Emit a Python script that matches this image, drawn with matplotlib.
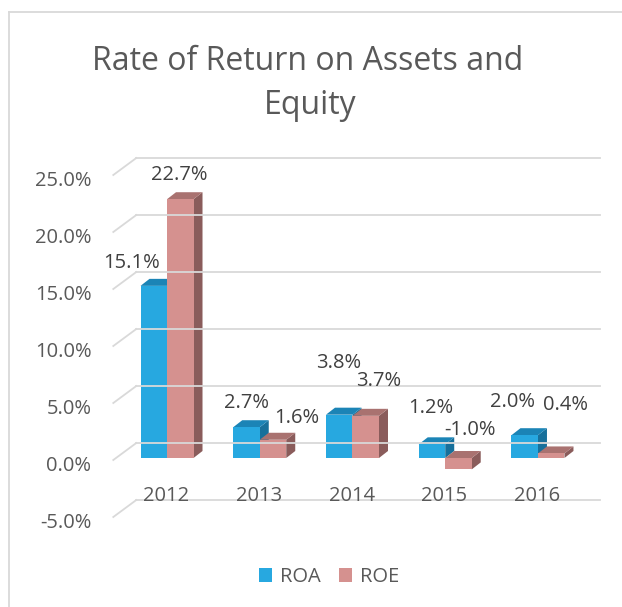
import matplotlib
matplotlib.use("Agg")
import matplotlib.pyplot as plt
from matplotlib.patches import Polygon, Rectangle, Patch
from matplotlib.lines import Line2D

years = ["2012", "2013", "2014", "2015", "2016"]
roa = [15.1, 2.7, 3.8, 1.2, 2.0]
roe = [22.7, 1.6, 3.7, -1.0, 0.4]
series_names = ["ROA", "ROE"]
y_ticks = [-5, 0, 5, 10, 15, 20, 25]

# Excel nudged some labels around, (dx, dy up) in pixels from the bar top
roa_nudge = [(-22, 23), (0, 24), (-1, 52), (-1, 36), (-12, 33)]
roe_nudge = [(-1, 24), (24, 22), (13, 35), (12, 28), (14, 48)]

blue = ("#27A8E0", "#1B84B6", "#17709B")   # front, top, side
pink = ("#D5918F", "#A97270", "#8A5C5B")
grid_col = "#D9D9D9"
fs = 14.5

plt.rcParams["font.family"] = ["Open Sans", "DejaVu Sans"]

W, H = 622, 607
fig = plt.figure(figsize=(W / 100, H / 100), dpi=100)
left, right, top_px, bot_px = 113.3, 577.0, 175.0, 517.0
ax = fig.add_axes([left / W, 1 - bot_px / H, (right - left) / W, (bot_px - top_px) / H])
xlo, xhi = -0.55, 4.45
ax.set_xlim(xlo, xhi)
ax.set_ylim(-5, 25)
ax.axis("off")

sx = (right - left) / (xhi - xlo)   # px per category
sy = (bot_px - top_px) / 30.0       # px per percent


def px(dx, dy):
    return dx / sx, dy / sy


# back wall + side grid
wx, wy = px(23, 17)
for lvl in y_ticks:
    ax.plot([xlo, xlo + wx], [lvl, lvl + wy], color=grid_col, lw=1.3, clip_on=False)
    ax.plot([xlo + wx, xhi + wx], [lvl + wy, lvl + wy], color=grid_col, lw=1.3, clip_on=False)
    ax.text(xlo - px(22, 0)[0], lvl - px(0, 6)[1], f"{lvl:.1f}%", ha="right", va="center",
            fontsize=fs, color="#595959")

bw = 26.5 / sx
bx, by = px(2.7, 2)
ddx, ddy = px(9, 7)


def draw_bar(x0, v, cols, nudge):
    front, topc, side = cols
    x0 = x0 + bx
    x1 = x0 + bw
    lo, hi = min(v, 0) + by, max(v, 0) + by
    ax.add_patch(Polygon([(x1, lo), (x1 + ddx, lo + ddy), (x1 + ddx, hi + ddy), (x1, hi)],
                         facecolor=side, lw=0, clip_on=False))
    ax.add_patch(Polygon([(x0, hi), (x1, hi), (x1 + ddx, hi + ddy), (x0 + ddx, hi + ddy)],
                         facecolor=topc, lw=0, clip_on=False))
    ax.add_patch(Rectangle((x0, lo), bw, hi - lo, facecolor=front, lw=0, clip_on=False))
    ax.annotate(f"{v:.1f}%", xy=(x0 + bw / 2, hi), xytext=(nudge[0] * 0.72, nudge[1] * 0.72),
                textcoords="offset points", ha="center", va="center",
                fontsize=fs, color="#404040")


for i in range(len(years)):
    draw_bar(i - bw, roa[i], blue, roa_nudge[i])
    draw_bar(i, roe[i], pink, roe_nudge[i])
    ax.text(i + px(2, 0)[0], -3.2, years[i], ha="center", va="center", fontsize=fs, color="#595959")

fig.text(308 / W, 1 - 62 / H, "Rate of Return on Assets and", ha="center", va="center",
         fontsize=23, color="#595959")
fig.text(310 / W, 1 - 105 / H, "Equity", ha="center", va="center", fontsize=23, color="#595959")

handles = [Patch(facecolor=blue[0]), Patch(facecolor=pink[0])]
fig.legend(handles, series_names, loc="center", bbox_to_anchor=(329 / W, 1 - 577 / H), ncol=2,
           frameon=False, handlelength=0.65, handleheight=0.65, handletextpad=0.4,
           columnspacing=0.9, fontsize=fs, labelcolor="#595959")

# chart border (only top and left edges are in the crop)
fig.add_artist(Line2D([9 / W, 9 / W], [0, 1 - 12 / H], transform=fig.transFigure, color=grid_col, lw=1.3))
fig.add_artist(Line2D([9 / W, 1], [1 - 12 / H, 1 - 12 / H], transform=fig.transFigure, color=grid_col, lw=1.3))

fig.savefig("out.png", dpi=100)
